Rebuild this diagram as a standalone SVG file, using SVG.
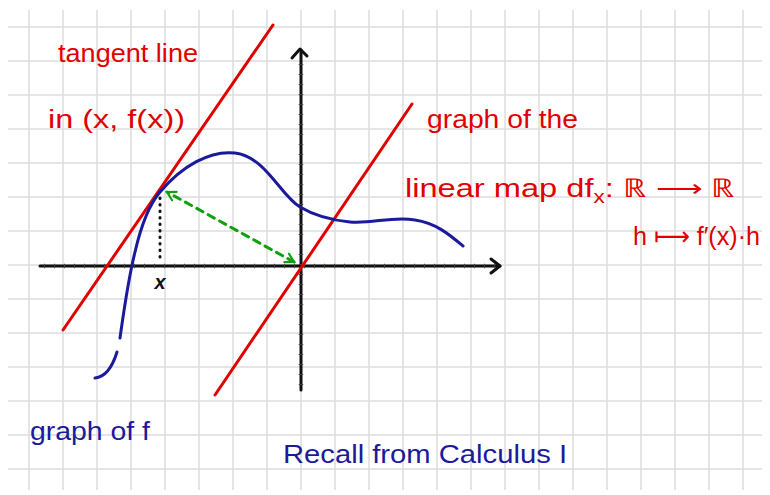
<svg xmlns="http://www.w3.org/2000/svg" width="770" height="495" viewBox="0 0 770 495">
<style>
.grid line{stroke:#dcdcdc;stroke-width:1.5}
.red{fill:#e00000;font-family:"Liberation Sans",Arial,sans-serif;font-size:26px}
.blue{fill:#1a1a9a;font-family:"Liberation Sans",Arial,sans-serif;font-size:26px}
.rl{stroke:#e00000;stroke-width:3;fill:none;stroke-linecap:round}
.ax{stroke:#111;stroke-width:3;fill:none;stroke-linecap:round;stroke-linejoin:round}
.tk{stroke:#444;stroke-width:4.5;stroke-dasharray:1 9}
</style>
<defs>
<marker id="ga" viewBox="0 0 10 10" refX="8" refY="5" markerWidth="4" markerHeight="4" orient="auto-start-reverse" markerUnits="strokeWidth">
<path d="M1,1 L8,5 L1,9" fill="none" stroke="#10a010" stroke-width="1.8" stroke-linecap="round"/>
</marker>
</defs>
<rect width="770" height="495" fill="#fff"/>
<g class="grid" id="grid">
<line x1="29" y1="10" x2="29" y2="490"/><line x1="63" y1="10" x2="63" y2="490"/><line x1="97" y1="10" x2="97" y2="490"/><line x1="131" y1="10" x2="131" y2="490"/><line x1="165" y1="10" x2="165" y2="490"/><line x1="199" y1="10" x2="199" y2="490"/><line x1="233" y1="10" x2="233" y2="490"/><line x1="267" y1="10" x2="267" y2="490"/><line x1="301" y1="10" x2="301" y2="490"/><line x1="335" y1="10" x2="335" y2="490"/><line x1="369" y1="10" x2="369" y2="490"/><line x1="403" y1="10" x2="403" y2="490"/><line x1="437" y1="10" x2="437" y2="490"/><line x1="471" y1="10" x2="471" y2="490"/><line x1="505" y1="10" x2="505" y2="490"/><line x1="539" y1="10" x2="539" y2="490"/><line x1="573" y1="10" x2="573" y2="490"/><line x1="607" y1="10" x2="607" y2="490"/><line x1="641" y1="10" x2="641" y2="490"/><line x1="675" y1="10" x2="675" y2="490"/><line x1="709" y1="10" x2="709" y2="490"/><line x1="743" y1="10" x2="743" y2="490"/>
<line x1="8" y1="27" x2="762" y2="27"/><line x1="8" y1="61" x2="762" y2="61"/><line x1="8" y1="95" x2="762" y2="95"/><line x1="8" y1="129" x2="762" y2="129"/><line x1="8" y1="163" x2="762" y2="163"/><line x1="8" y1="197" x2="762" y2="197"/><line x1="8" y1="231" x2="762" y2="231"/><line x1="8" y1="265" x2="762" y2="265"/><line x1="8" y1="299" x2="762" y2="299"/><line x1="8" y1="333" x2="762" y2="333"/><line x1="8" y1="367" x2="762" y2="367"/><line x1="8" y1="401" x2="762" y2="401"/><line x1="8" y1="435" x2="762" y2="435"/><line x1="8" y1="469" x2="762" y2="469"/>
</g>
<g id="axes">
<line class="ax" x1="40" y1="266" x2="500" y2="266"/>
<line class="tk" x1="44" y1="266" x2="496" y2="266"/>
<path class="ax" d="M491,259 L500,266 L491,273"/>
<line class="ax" x1="301" y1="390" x2="301" y2="50"/>
<line class="tk" x1="301" y1="385" x2="301" y2="56"/>
<path class="ax" d="M292,58 L300,49 L307,56"/>
</g>
<g id="tangent-line"><line class="rl" x1="63" y1="330" x2="273" y2="25"/></g>
<g id="linear-map-line"><line class="rl" x1="215" y1="395" x2="412" y2="104"/></g>
<g id="graph-f">
<path d="M120,338 C124,310 128,280 135,252 C141,226 148,206 160,192 C182,166 210,150 235,153 C266,157 280,195 300,207 C315,216 330,220 350,222 C372,224 392,216 415,220 C436,223 450,235 463,246" fill="none" stroke="#1a1a9a" stroke-width="3" stroke-linecap="round"/>
<path d="M95,378 C106,377 113,365 117,352" fill="none" stroke="#1a1a9a" stroke-width="3" stroke-linecap="round"/>
</g>
<g id="connectors">
<line x1="294" y1="262" x2="167" y2="192" stroke="#10a010" stroke-width="3" stroke-dasharray="7 6" stroke-linecap="round" marker-start="url(#ga)" marker-end="url(#ga)"/>
<line x1="160" y1="198" x2="160" y2="258" stroke="#111" stroke-width="3" stroke-dasharray="0.5 6" stroke-linecap="round"/>
</g>
<g id="x-label"><text x="160" y="289" text-anchor="middle" font-family="Liberation Sans,Arial,sans-serif" font-size="20" font-style="italic" font-weight="bold" fill="#111">x</text></g>
<g id="tangent-label">
<text class="red" x="58" y="62" textLength="140" lengthAdjust="spacingAndGlyphs">tangent line</text>
<text class="red" x="48" y="128" textLength="137" lengthAdjust="spacingAndGlyphs">in (x, f(x))</text>
</g>
<g id="linear-map-label">
<text class="red" x="427" y="128" textLength="151" lengthAdjust="spacingAndGlyphs">graph of the</text>
<text class="red" x="405" y="197" textLength="330" lengthAdjust="spacingAndGlyphs">linear map df<tspan font-size="18" dy="6">x</tspan><tspan dy="-6">: ℝ ⟶ ℝ</tspan></text>
<text class="red" x="633" y="245" textLength="127" lengthAdjust="spacingAndGlyphs">h ⟼ f′(x)·h</text>
</g>
<g id="graph-label"><text class="blue" x="30" y="440" textLength="120" lengthAdjust="spacingAndGlyphs">graph of f</text></g>
<g id="recall-label"><text class="blue" x="283" y="463" textLength="284" lengthAdjust="spacingAndGlyphs">Recall from Calculus I</text></g>
</svg>
